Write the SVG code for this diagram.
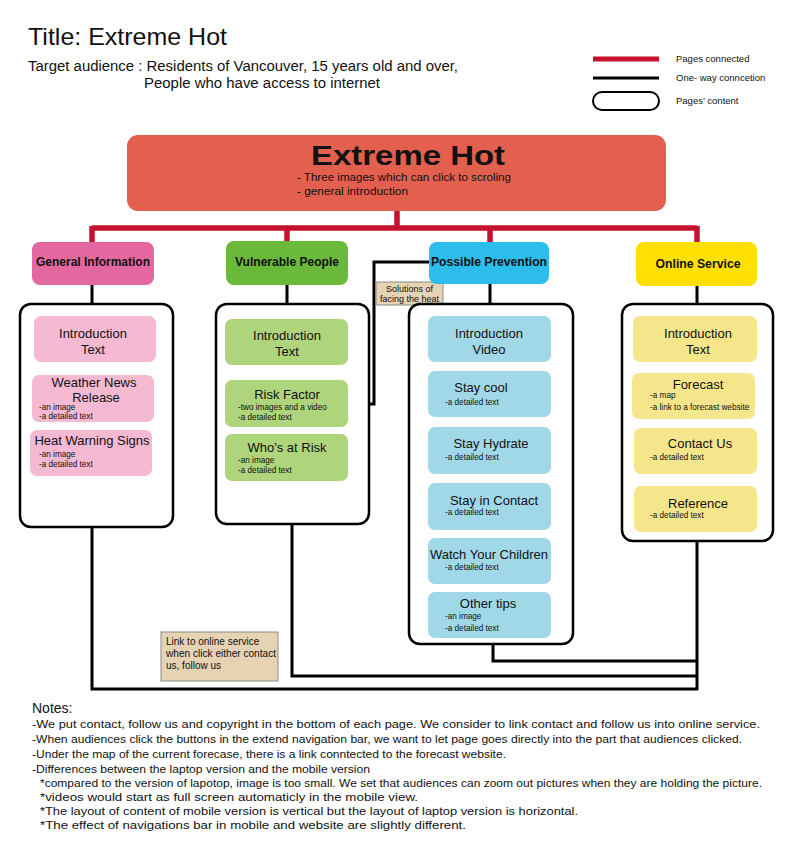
<svg xmlns="http://www.w3.org/2000/svg" width="792" height="850" viewBox="0 0 792 850">
<style>
text{font-family:"Liberation Sans",Arial,sans-serif;fill:#111}
.hdr{font-weight:bold;font-size:12.5px;text-anchor:middle}
.it{font-size:13px;text-anchor:middle}
.sm{font-size:8.2px}
.box{fill:#fff;stroke:#000;stroke-width:2.5}
.red{fill:none;stroke:#C4122F;stroke-width:5.5}
.blk{fill:none;stroke:#000;stroke-width:3}
.pk{fill:#F5BAD2}.gr{fill:#AED57B}.bl{fill:#A1D8E8}.yl{fill:#F6E68B}
.note{font-size:10.5px}
.tan{fill:#E6D3B3;stroke:#8a8a8a;stroke-width:1}
</style>
<rect width="792" height="850" fill="#fff"/>

<g id="header">
<text x="28" y="45" font-size="24" textLength="199" lengthAdjust="spacingAndGlyphs">Title: Extreme Hot</text>
<text x="28" y="71" font-size="14" textLength="430" lengthAdjust="spacingAndGlyphs">Target audience : Residents of Vancouver, 15 years old and over,</text>
<text x="144" y="88" font-size="14" textLength="236" lengthAdjust="spacingAndGlyphs">People who have access to internet</text>
</g>

<g id="legend">
<line x1="593" y1="59" x2="659" y2="59" stroke="#C4122F" stroke-width="5"/>
<text x="676" y="62" font-size="9.5">Pages connected</text>
<line x1="593" y1="78" x2="659" y2="78" stroke="#000" stroke-width="3"/>
<text x="676" y="81" font-size="9.5">One- way conncetion</text>
<rect x="593" y="92" width="66" height="18" rx="9" fill="#fff" stroke="#000" stroke-width="2"/>
<text x="676" y="104" font-size="9.5">Pages’ content</text>
</g>

<g id="connectors">
<path class="red" d="M397,211 V228 M92,228 H697 M92,226 V243 M287,226 V243 M490,226 V243 M697,226 V243"/>
<path class="blk" d="M92,285 V305 M287,285 V305 M490,284 V305 M697,286 V305"/>
<path class="blk" d="M348,404 H374 V262 H430"/>
<path class="blk" d="M92,527 V689 H698 M292,524 V676 H697 M493,644 V661 H697 M697,541 V690"/>
</g>

<g id="label-solutions">
<rect class="tan" x="376" y="282" width="67" height="23"/>
<text x="409.5" y="292" font-size="9" text-anchor="middle">Solutions of</text>
<text x="409.5" y="302" font-size="9" text-anchor="middle">facing the heat</text>
</g>

<g id="label-link">
<rect class="tan" x="161" y="632" width="117" height="49"/>
<text x="166" y="645" font-size="10">Link to online service</text>
<text x="166" y="657" font-size="10" textLength="110" lengthAdjust="spacingAndGlyphs">when click either contact</text>
<text x="166" y="669" font-size="10">us, follow us</text>
</g>

<g id="extreme-hot">
<rect x="127" y="135" width="539" height="76" rx="11" fill="#E35F4E"/>
<text x="408" y="165" font-size="28" font-weight="bold" text-anchor="middle" textLength="194" lengthAdjust="spacingAndGlyphs">Extreme Hot</text>
<text x="297" y="181" font-size="11" textLength="214" lengthAdjust="spacingAndGlyphs">- Three images which can click to scroling</text>
<text x="297" y="195" font-size="11" textLength="111" lengthAdjust="spacingAndGlyphs">- general introduction</text>
</g>

<g id="general-information">
<rect x="32" y="242" width="122" height="43" rx="8" fill="#E4679F"/>
<text class="hdr" x="93" y="266" textLength="114" lengthAdjust="spacingAndGlyphs">General Information</text>
</g>
<g id="vulnerable-people">
<rect x="226" y="241" width="122" height="44" rx="8" fill="#6BB93A"/>
<text class="hdr" x="287" y="266" textLength="104" lengthAdjust="spacingAndGlyphs">Vulnerable People</text>
</g>
<g id="possible-prevention">
<rect x="429" y="242" width="120" height="42" rx="8" fill="#2DBDEC"/>
<text class="hdr" x="489" y="266" textLength="116" lengthAdjust="spacingAndGlyphs">Possible Prevention</text>
</g>
<g id="online-service">
<rect x="636" y="242" width="121" height="44" rx="8" fill="#FFE000"/>
<text class="hdr" x="698" y="268" textLength="85" lengthAdjust="spacingAndGlyphs">Online Service</text>
</g>

<g id="gi-content">
<rect class="box" x="20" y="304" width="153" height="223" rx="11"/>
<rect class="pk" x="34" y="316" width="122" height="46" rx="7"/>
<text class="it" x="93" y="338">Introduction</text>
<text class="it" x="93" y="354">Text</text>
<rect class="pk" x="32" y="375" width="122" height="47" rx="7"/>
<text class="it" x="94" y="387">Weather News</text>
<text class="it" x="96" y="402">Release</text>
<text class="sm" x="39" y="410">-an image</text>
<text class="sm" x="39" y="419">-a detailed text</text>
<rect class="pk" x="30" y="430" width="122" height="46" rx="7"/>
<text class="it" x="92" y="445">Heat Warning Signs</text>
<text class="sm" x="39" y="457">-an image</text>
<text class="sm" x="39" y="467">-a detailed text</text>
</g>

<g id="vp-content">
<rect class="box" x="216" y="304" width="153" height="220" rx="11"/>
<rect class="gr" x="225" y="319" width="123" height="46" rx="7"/>
<text class="it" x="287" y="340">Introduction</text>
<text class="it" x="287" y="356">Text</text>
<rect class="gr" x="225" y="380" width="123" height="47" rx="7"/>
<text class="it" x="287" y="399">Risk Factor</text>
<text class="sm" x="238" y="410">-two images and a video</text>
<text class="sm" x="238" y="420">-a detailed text</text>
<rect class="gr" x="225" y="434" width="123" height="47" rx="7"/>
<text class="it" x="287" y="452">Who’s at Risk</text>
<text class="sm" x="238" y="463">-an image</text>
<text class="sm" x="238" y="473">-a detailed text</text>
</g>

<g id="pp-content">
<rect class="box" x="409" y="304" width="164" height="340" rx="11"/>
<rect class="bl" x="428" y="316" width="123" height="46" rx="7"/>
<text class="it" x="489" y="338">Introduction</text>
<text class="it" x="489" y="354">Video</text>
<rect class="bl" x="428" y="371" width="123" height="46" rx="7"/>
<text class="it" x="481" y="392">Stay cool</text>
<text class="sm" x="445" y="405">-a detailed text</text>
<rect class="bl" x="428" y="427" width="123" height="47" rx="7"/>
<text class="it" x="491" y="448">Stay Hydrate</text>
<text class="sm" x="445" y="460">-a detailed text</text>
<rect class="bl" x="428" y="483" width="123" height="47" rx="7"/>
<text class="it" x="494" y="505">Stay in Contact</text>
<text class="sm" x="445" y="515">-a detailed text</text>
<rect class="bl" x="428" y="538" width="123" height="46" rx="7"/>
<text class="it" x="489" y="559">Watch Your Children</text>
<text class="sm" x="445" y="570">-a detailed text</text>
<rect class="bl" x="428" y="592" width="123" height="46" rx="7"/>
<text class="it" x="488" y="608">Other tips</text>
<text class="sm" x="445" y="619">-an image</text>
<text class="sm" x="445" y="631">-a detailed text</text>
</g>

<g id="os-content">
<rect class="box" x="622" y="304" width="151" height="237" rx="11"/>
<rect class="yl" x="633" y="316" width="124" height="46" rx="7"/>
<text class="it" x="698" y="338">Introduction</text>
<text class="it" x="698" y="354">Text</text>
<rect class="yl" x="632" y="373" width="123" height="46" rx="7"/>
<text class="it" x="698" y="389">Forecast</text>
<text class="sm" x="650" y="398">-a map</text>
<text class="sm" x="650" y="410">-a link to a forecast website</text>
<rect class="yl" x="634" y="428" width="123" height="46" rx="7"/>
<text class="it" x="700" y="448">Contact Us</text>
<text class="sm" x="650" y="460">-a detailed text</text>
<rect class="yl" x="634" y="486" width="123" height="46" rx="7"/>
<text class="it" x="698" y="508">Reference</text>
<text class="sm" x="650" y="518">-a detailed text</text>
</g>

<g id="notes">
<text x="32" y="713" font-size="14">Notes:</text>
<text class="note" x="32" y="728" textLength="728" lengthAdjust="spacingAndGlyphs">-We put contact, follow us and copyright in the bottom of each page. We consider to link contact and follow us into online service.</text>
<text class="note" x="32" y="743" textLength="710" lengthAdjust="spacingAndGlyphs">-When audiences click the buttons in the extend navigation bar,  we want to let page goes directly into the part that audiences clicked.</text>
<text class="note" x="32" y="758" textLength="474" lengthAdjust="spacingAndGlyphs">-Under the map of the current forecase, there is a link conntected to the forecast website.</text>
<text class="note" x="32" y="773" textLength="338" lengthAdjust="spacingAndGlyphs">-Differences between the laptop version and the mobile version</text>
<text class="note" x="40" y="787" textLength="722" lengthAdjust="spacingAndGlyphs">*compared to the version of lapotop, image is too small. We set that audiences can zoom out pictures when they are holding the picture.</text>
<text class="note" x="40" y="801" textLength="378" lengthAdjust="spacingAndGlyphs">*videos would start as full screen automaticly in the mobile view.</text>
<text class="note" x="40" y="815" textLength="538" lengthAdjust="spacingAndGlyphs">*The layout of content of mobile version is vertical  but the layout of laptop version is horizontal.</text>
<text class="note" x="40" y="829" textLength="426" lengthAdjust="spacingAndGlyphs">*The effect of navigations bar in mobile and website are slightly different.</text>
</g>
</svg>
